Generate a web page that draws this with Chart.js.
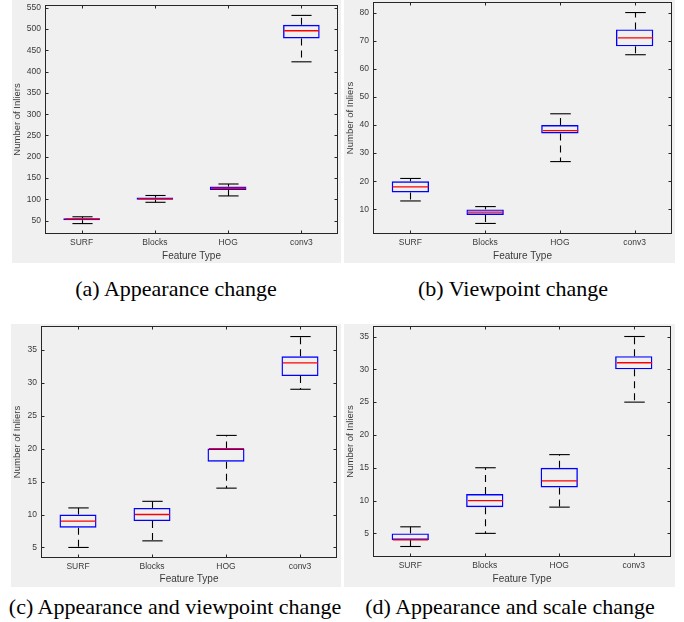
<!DOCTYPE html>
<html>
<head>
<meta charset="utf-8">
<script src="https://cdn.jsdelivr.net/npm/chart.js@4.4.1/dist/chart.umd.min.js"></script>
<style>
  body { margin: 0; background: #fff; width: 684px; height: 622px; position: relative; overflow: hidden; }
  .panel { position: absolute; background: #f0f0f0; }
  .caption {
    position: absolute;
    font-family: 'Liberation Serif', 'Times New Roman', serif;
    font-size: 22px;
    color: #000;
    white-space: nowrap;
    transform: translate(-50%, -50%);
  }
</style>
</head>
<body>
<div class="panel" style="left:12px;top:0;width:329px;height:263px"><canvas id="chartA"></canvas></div>
<div class="panel" style="left:344px;top:0;width:331px;height:263px"><canvas id="chartB"></canvas></div>
<div class="panel" style="left:11px;top:324px;width:330px;height:263px"><canvas id="chartC"></canvas></div>
<div class="panel" style="left:344px;top:324px;width:331px;height:263px"><canvas id="chartD"></canvas></div>

<div class="caption" style="left:176px;top:289px">(a) Appearance change</div>
<div class="caption" style="left:513px;top:289px">(b) Viewpoint change</div>
<div class="caption" style="left:175px;top:607px">(c) Appearance and viewpoint change</div>
<div class="caption" style="left:510px;top:607px">(d) Appearance and scale change</div>

<script>
const categories = ['SURF', 'Blocks', 'HOG', 'conv3'];

// each row: [lower whisker, q1, median, q3, upper whisker]
const appearanceBoxes = [
  [43, 51, 54, 55.5, 59],
  [93, 99, 101, 104, 109],
  [108, 122, 126, 130, 136],
  [423, 478, 496, 510, 532]
];
const viewpointBoxes = [
  [13, 16, 18, 20, 21],
  [5, 8, 9, 10, 11],
  [27, 37, 38, 40, 44],
  [65, 68, 71, 74, 80]
];
const appViewBoxes = [
  [5, 8, 9, 10, 11],
  [6, 9, 10, 11, 12],
  [14, 18, 20, 20, 22],
  [29, 31, 33, 34, 37]
];
const appScaleBoxes = [
  [3, 4, 4, 5, 6],
  [5, 9, 10, 11, 15],
  [9, 12, 13, 15, 17],
  [25, 30, 31, 32, 35]
];

const appearanceTicks = [50, 100, 150, 200, 250, 300, 350, 400, 450, 500, 550];
const viewpointTicks = [10, 20, 30, 40, 50, 60, 70, 80];
const appViewTicks = [5, 10, 15, 20, 25, 30, 35];
const appScaleTicks = [5, 10, 15, 20, 25, 30, 35];

const textColor = '#3a3a3a';
const frameColor = '#262626';

const boxPlot = {
  id: 'boxPlot',
  afterDatasetsDraw(chart, args, opts) {
    const { ctx, scales: { x, y } } = chart;
    const bars = chart.getDatasetMeta(0).data;
    const seg = (x1, y1, x2, y2) => {
      ctx.beginPath();
      ctx.moveTo(x1, y1);
      ctx.lineTo(x2, y2);
      ctx.stroke();
    };
    ctx.save();
    ctx.lineWidth = 1.1;
    opts.rows.forEach((r, i) => {
      const cx = Math.round(x.getPixelForValue(i)) + 0.5;
      const half = bars[i].width / 2;
      const cap = half * 0.55;
      const [lo, q1, med, q3, hi] = r.map(v => y.getPixelForValue(v));
      ctx.strokeStyle = '#000';
      ctx.setLineDash([7, 5]);
      seg(cx, q3, cx, hi);
      seg(cx, q1, cx, lo);
      ctx.setLineDash([]);
      seg(cx - cap, hi, cx + cap, hi);
      seg(cx - cap, lo, cx + cap, lo);
      ctx.strokeStyle = '#ff0000';
      ctx.lineWidth = 1.3;
      seg(cx - half + 1, med, cx + half - 1, med);
      ctx.lineWidth = 1.1;
    });
    ctx.restore();
  },
  afterDraw(chart, args, opts) {
    const { ctx, chartArea: a, scales: { x, y } } = chart;
    const L = Math.round(a.left) + 0.5, R = Math.round(a.right) - 0.5;
    const T = Math.round(a.top) + 0.5, B = Math.round(a.bottom) - 0.5;
    ctx.save();
    ctx.strokeStyle = frameColor;
    ctx.lineWidth = 1;
    ctx.strokeRect(L, T, R - L, B - T);
    ctx.beginPath();
    opts.ticks.forEach(v => {
      const py = Math.round(y.getPixelForValue(v)) + 0.5;
      ctx.moveTo(L, py); ctx.lineTo(L + 3, py);
      ctx.moveTo(R, py); ctx.lineTo(R - 3, py);
    });
    categories.forEach((c, i) => {
      const px = Math.round(x.getPixelForValue(i)) + 0.5;
      ctx.moveTo(px, B); ctx.lineTo(px, B - 3);
      ctx.moveTo(px, T); ctx.lineTo(px, T + 3);
    });
    ctx.stroke();
    ctx.restore();
  }
};

function drawBoxChart(canvasId, rows, ticks, area) {
  const canvas = document.getElementById(canvasId);
  if (!canvas) return;

  const lows = rows.map(r => r[0]);
  const highs = rows.map(r => r[4]);
  const span = Math.max(...highs) - Math.min(...lows);
  const yMin = Math.min(...lows) - span * 0.05;
  const yMax = Math.max(...highs) + span * 0.05;

  new Chart(canvas, {
    type: 'bar',
    plugins: [boxPlot],
    options: {
      responsive: true,
      maintainAspectRatio: false,
      animation: false,
      layout: {
        padding: { top: area.top, right: area.right, left: 0, bottom: 0 }
      },
      plugins: {
        legend: { display: false },
        tooltip: { enabled: false },
        boxPlot: { rows: rows, ticks: ticks }
      },
      scales: {
        x: {
          type: 'category',
          offset: true,
          grid: { display: false, drawTicks: false },
          border: { display: false },
          ticks: {
            color: textColor,
            font: { family: 'Liberation Sans', size: 8.5 },
            padding: 4,
            maxRotation: 0
          },
          title: {
            display: true,
            text: 'Feature Type',
            color: textColor,
            font: { family: 'Liberation Sans', size: 10 },
            padding: { top: 0, bottom: area.titleBottom }
          },
          afterFit: s => {
            s.height = area.bottom;
            s.paddingLeft = 0;
            s.paddingRight = 0;
          }
        },
        y: {
          type: 'linear',
          min: yMin,
          max: yMax,
          grid: { display: false, drawTicks: false },
          border: { display: false },
          ticks: {
            color: textColor,
            font: { family: 'Liberation Sans', size: 8.5 },
            padding: 4
          },
          title: {
            display: true,
            text: 'Number of Inliers',
            color: textColor,
            font: { family: 'Liberation Sans', size: 9.5 },
            padding: { top: area.titleLeft, bottom: 0 }
          },
          afterBuildTicks: s => {
            s.ticks = ticks.map(v => ({ value: v }));
          },
          afterFit: s => {
            s.width = area.left;
            s.paddingTop = 0;
            s.paddingBottom = 0;
          }
        }
      }
    },
    data: {
      labels: categories,
      datasets: [{
        data: rows.map(r => [r[1], r[3]]),
        backgroundColor: 'rgba(255, 255, 255, 0)',
        borderColor: '#0000ff',
        borderWidth: 1.4,
        borderSkipped: false,
        barPercentage: 0.5,
        categoryPercentage: 1
      }]
    }
  });
}

drawBoxChart('chartA', appearanceBoxes, appearanceTicks,
  { left: 33, right: 3, top: 5, bottom: 29, titleLeft: 0, titleBottom: 1 });
drawBoxChart('chartB', viewpointBoxes, viewpointTicks,
  { left: 29, right: 3, top: 2, bottom: 29, titleLeft: 0.5, titleBottom: 1 });
drawBoxChart('chartC', appViewBoxes, appViewTicks,
  { left: 30, right: 4, top: 2, bottom: 29, titleLeft: 0.5, titleBottom: 2 });
drawBoxChart('chartD', appScaleBoxes, appScaleTicks,
  { left: 29, right: 4, top: 2, bottom: 30, titleLeft: 0.5, titleBottom: 2 });
</script>
</body>
</html>
